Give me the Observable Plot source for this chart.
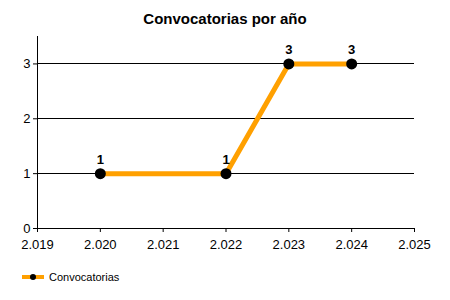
<!DOCTYPE html>
<html>
<head>
<meta charset="utf-8">
<script src="https://cdn.jsdelivr.net/npm/d3@7"></script>
<script src="https://cdn.jsdelivr.net/npm/@observablehq/plot@0.6"></script>
<style>
  html, body { margin: 0; padding: 0; background: #fff; }
  #wrap { position: relative; width: 450px; height: 300px; font-family: "Liberation Sans", Arial, sans-serif; }
  #title { position: absolute; left: 0; top: 10px; width: 450px; text-align: center; font-weight: bold; font-size: 15px; color: #000; }
  #chart { position: absolute; left: 0; top: 30px; }
  #chart svg line, #chart svg path[stroke="currentColor"] { shape-rendering: crispEdges; }
  #legend { position: absolute; left: 20px; top: 270px; display: flex; align-items: center; font-size: 11px; color: #000; }
</style>
</head>
<body>
<div id="wrap">
  <div id="title">Convocatorias por año</div>
  <div id="chart"></div>
  <div id="legend"></div>
</div>
<script>
const years = [2020, 2022, 2023, 2024];
const counts = [1, 1, 3, 3];
const xTicks = [2019, 2020, 2021, 2022, 2023, 2024, 2025];
const yTicks = [0, 1, 2, 3];
const seriesName = "Convocatorias";
const lineColor = "#FFA000";

const data = years.map((y, i) => ({year: y, value: counts[i]}));

const plot = Plot.plot({
  width: 450,
  height: 235,
  marginLeft: 37,
  marginRight: 36,
  marginTop: 6,
  marginBottom: 37,
  style: {fontFamily: "'Liberation Sans', Arial, sans-serif", fontSize: "13px", color: "#000", background: "transparent"},
  x: {domain: [2019, 2025], label: null},
  y: {domain: [0, 3.5], label: null},
  marks: [
    Plot.ruleY(yTicks.filter(d => d > 0), {stroke: "#000", strokeWidth: 1, shapeRendering: "crispEdges"}),
    Plot.axisX({ticks: xTicks, tickFormat: d => (d / 1000).toFixed(3), tickSize: 4, tickPadding: 7, label: null}),
    Plot.axisY({ticks: yTicks, tickFormat: d => String(d), tickSize: 4, tickPadding: 3, label: null}),
    Plot.ruleX([2019], {y1: 0, y2: 3.5, stroke: "#000", strokeWidth: 1, shapeRendering: "crispEdges"}),
    Plot.ruleY([0], {stroke: "#000", strokeWidth: 1, shapeRendering: "crispEdges"}),
    Plot.line(data, {x: "year", y: "value", stroke: lineColor, strokeWidth: 5}),
    Plot.dot(data, {x: "year", y: "value", r: 5.5, fill: "#000", stroke: "none"}),
    Plot.text(data, {x: "year", y: "value", text: d => String(d.value), dy: -14, fontWeight: "bold", fill: "#000"})
  ]
});
document.getElementById("chart").appendChild(plot);

const legend = document.getElementById("legend");
const ns = "http://www.w3.org/2000/svg";
const sw = document.createElementNS(ns, "svg");
sw.setAttribute("width", "26");
sw.setAttribute("height", "14");
const ln = document.createElementNS(ns, "line");
ln.setAttribute("x1", "2"); ln.setAttribute("x2", "24");
ln.setAttribute("y1", "7"); ln.setAttribute("y2", "7");
ln.setAttribute("stroke", lineColor); ln.setAttribute("stroke-width", "4");
sw.appendChild(ln);
const c = document.createElementNS(ns, "circle");
c.setAttribute("cx", "13"); c.setAttribute("cy", "7"); c.setAttribute("r", "3");
c.setAttribute("fill", "#000");
sw.appendChild(c);
legend.appendChild(sw);
const lt = document.createElement("span");
lt.style.marginLeft = "3px";
lt.textContent = seriesName;
legend.appendChild(lt);
</script>
</body>
</html>
